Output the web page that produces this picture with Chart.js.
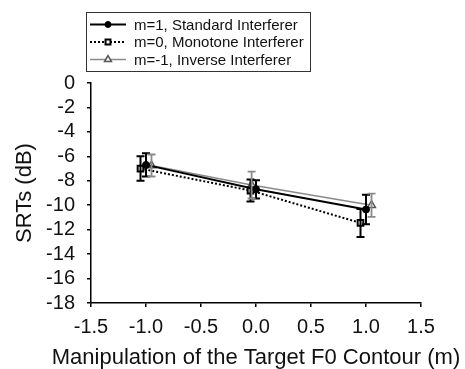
<!DOCTYPE html>
<html>
<head>
<meta charset="utf-8">
<script src="https://cdn.jsdelivr.net/npm/chart.js@4.4.1/dist/chart.umd.min.js"></script>
<style>
  html, body { margin: 0; padding: 0; background: #fff; }
  canvas { display: block; }
</style>
</head>
<body>
<canvas id="srtChart" width="465" height="369"></canvas>
<script>
// condition labels
const seriesNames = ['m=1, Standard Interferer', 'm=0, Monotone Interferer', 'm=-1, Inverse Interferer'];

// target F0 manipulation (x, slightly staggered per condition)
const xStandard = [-1.0, 0.0, 1.0];
const xMonotone = [-1.05, -0.05, 0.95];
const xInverse = [-0.95, -0.04, 1.05];

// mean SRTs in dB
const yStandard = [-6.7, -8.7, -10.35];
const yMonotone = [-7.0, -8.8, -11.45];
const yInverse = [-6.75, -8.35, -10.0];

// error bar half-lengths in dB
const eStandard = [0.95, 0.75, 1.2];
const eMonotone = [1.0, 0.9, 1.15];
const eInverse = [0.9, 1.1, 0.95];

const xTicks = [-1.5, -1.0, -0.5, 0.0, 0.5, 1.0, 1.5];
const yTicks = [0, -2, -4, -6, -8, -10, -12, -14, -16, -18];
const xTitle = 'Manipulation of the Target F0 Contour (m)';

const FONT = '"Liberation Sans", Arial, Helvetica, sans-serif';
const GREY = '#8a8a8a';

const pts = (xs, ys) => xs.map((x, i) => ({ x: x, y: ys[i] }));

const errors = [eStandard, eMonotone, eInverse];

// vertical error bars with caps, drawn through the chart scales
const errorBars = {
    id: 'errorBars',
    afterDatasetsDraw(chart) {
        const { ctx, scales: { x, y } } = chart;
        chart.data.datasets.forEach((ds, di) => {
            ctx.save();
            ctx.strokeStyle = ds.errColor;
            ctx.lineWidth = ds.errWidth;
            ds.data.forEach((p, i) => {
                const px = x.getPixelForValue(p.x);
                const top = y.getPixelForValue(p.y + errors[di][i]);
                const bot = y.getPixelForValue(p.y - errors[di][i]);
                ctx.beginPath();
                ctx.moveTo(px, top); ctx.lineTo(px, bot);
                ctx.moveTo(px - 4, top); ctx.lineTo(px + 4, top);
                ctx.moveTo(px - 4, bot); ctx.lineTo(px + 4, bot);
                ctx.stroke();
            });
            ctx.restore();
        });
    }
};

// x-axis title, drawn by hand so it is not squeezed to the plot width
const wideTitle = {
    id: 'wideTitle',
    afterDraw(chart) {
        const ctx = chart.ctx;
        const a = chart.chartArea;
        ctx.save();
        ctx.fillStyle = '#111';
        ctx.font = '22px ' + FONT;
        ctx.textAlign = 'center';
        ctx.textBaseline = 'middle';
        ctx.fillText(xTitle, (a.left + a.right) / 2, 358);
        ctx.restore();
    }
};

// boxed legend showing line style plus marker
const boxLegend = {
    id: 'boxLegend',
    afterDraw(chart) {
        const ctx = chart.ctx;
        ctx.save();
        ctx.strokeStyle = '#333';
        ctx.lineWidth = 1;
        ctx.strokeRect(86.5, 12.5, 224, 59);
        const rows = [24.5, 42, 59.5];
        chart.data.datasets.forEach((ds, i) => {
            const yy = rows[i];
            ctx.strokeStyle = ds.borderColor;
            ctx.lineWidth = ds.borderWidth;
            ctx.setLineDash(ds.borderDash || []);
            ctx.beginPath();
            ctx.moveTo(90, yy); ctx.lineTo(126, yy);
            ctx.stroke();
            ctx.setLineDash([]);
            ctx.fillStyle = ds.pointBackgroundColor;
            ctx.strokeStyle = ds.pointBorderColor;
            ctx.lineWidth = ds.pointBorderWidth;
            Chart.helpers.drawPoint(ctx, {
                pointStyle: ds.pointStyle,
                radius: ds.pointRadius - 0.5,
                borderWidth: ds.pointBorderWidth
            }, 108, yy);
            ctx.fillStyle = '#111';
            ctx.font = '15px ' + FONT;
            ctx.textAlign = 'left';
            ctx.textBaseline = 'middle';
            ctx.fillText(ds.label, 134, yy + 1);
        });
        ctx.restore();
    }
};

new Chart(document.getElementById('srtChart'), {
    type: 'line',
    data: {
        datasets: [
            {
                label: seriesNames[0], data: pts(xStandard, yStandard),
                borderColor: '#000', borderWidth: 2,
                pointStyle: 'circle', pointRadius: 3.5, pointBorderWidth: 1,
                pointBackgroundColor: '#000', pointBorderColor: '#000',
                errColor: '#000', errWidth: 2
            },
            {
                label: seriesNames[1], data: pts(xMonotone, yMonotone),
                borderColor: '#000', borderWidth: 2, borderDash: [2, 2],
                pointStyle: 'rect', pointRadius: 4, pointBorderWidth: 2,
                pointBackgroundColor: '#fff', pointBorderColor: '#000',
                errColor: '#000', errWidth: 2
            },
            {
                label: seriesNames[2], data: pts(xInverse, yInverse),
                borderColor: GREY, borderWidth: 1.5,
                pointStyle: 'triangle', pointRadius: 4.5, pointBorderWidth: 1.5,
                pointBackgroundColor: '#fff', pointBorderColor: '#555',
                errColor: GREY, errWidth: 1.8
            }
        ]
    },
    options: {
        responsive: false,
        animation: false,
        devicePixelRatio: 1,
        layout: { padding: { left: 0, top: 83, right: 44, bottom: 0 } },
        plugins: { legend: { display: false }, tooltip: { enabled: false } },
        scales: {
            x: {
                type: 'linear', min: -1.5, max: 1.5,
                afterBuildTicks: s => { s.ticks = xTicks.map(v => ({ value: v })); },
                afterFit: s => { s.height = 66; },
                grid: { drawOnChartArea: false, drawTicks: true, tickLength: 4, color: '#000', lineWidth: 1.5 },
                border: { display: true, color: '#000', width: 1.5 },
                ticks: { autoSkip: false, maxRotation: 0, color: '#111', padding: 8, font: { family: FONT, size: 20 }, callback: v => v.toFixed(1) },
                title: { display: false }
            },
            y: {
                type: 'linear', min: -18, max: 0,
                afterBuildTicks: s => { s.ticks = yTicks.map(v => ({ value: v })); },
                afterFit: s => { s.width = 91; },
                grid: { drawOnChartArea: false, drawTicks: true, tickLength: 4, color: '#000', lineWidth: 1.5 },
                border: { display: true, color: '#000', width: 1.5 },
                ticks: { autoSkip: false, color: '#111', padding: 12, font: { family: FONT, size: 20 } },
                title: {
                    display: true, text: 'SRTs (dB)', color: '#111',
                    font: { family: FONT, size: 22, lineHeight: 1.2 }, padding: { top: 12, bottom: 0 }
                }
            }
        }
    },
    plugins: [errorBars, boxLegend, wideTitle]
});
</script>
</body>
</html>
